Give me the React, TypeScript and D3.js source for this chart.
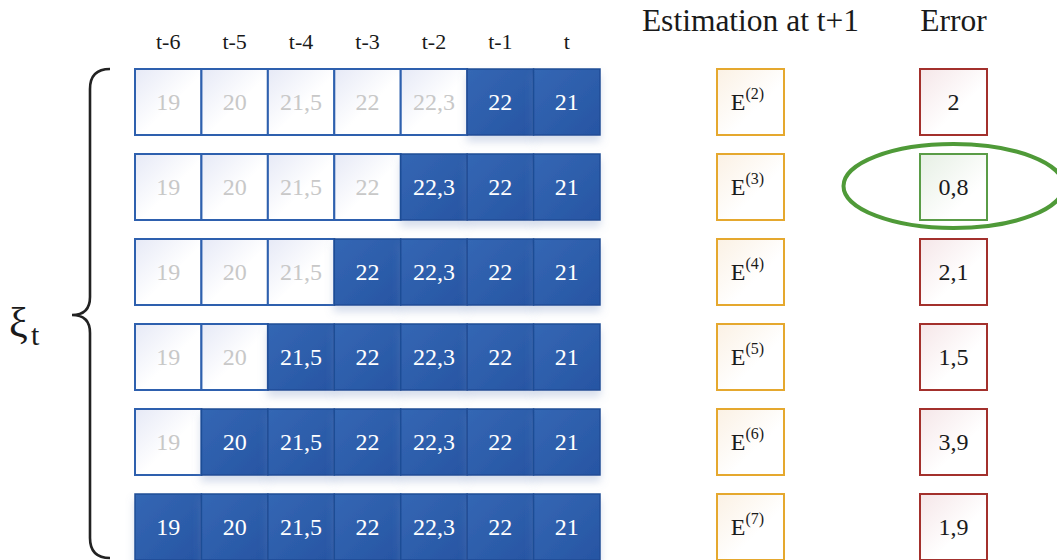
import React from "react";
import * as d3 from "d3";

const columns = ["t-6", "t-5", "t-4", "t-3", "t-2", "t-1", "t"];
const values = [19, 20, 21.5, 22, 22.3, 22, 21];
const windowSizes = [2, 3, 4, 5, 6, 7];
const errors = [2, 0.8, 2.1, 1.5, 3.9, 1.9];
const headerEstimation = "Estimation at t+1";
const headerError = "Error";

const W = 1057;
const H = 560;
const FONT = "'Liberation Serif', 'Times New Roman', serif";

const fmt = (v: number) => String(v).replace(".", ",");

export default function App() {
  const x = d3.scaleBand<string>().domain(columns).range([135, 600]).padding(0);
  const cw = x.bandwidth();
  const cellH = 66;
  const y = d3.scaleLinear().domain([0, 1]).range([69, 154]);
  const estX = 717;
  const errX = 920;
  const boxW = 67;
  const best = errors.indexOf(d3.min(errors) as number);

  return (
    <svg width={W} height={H} style={{ position: "absolute", left: 0, top: 0 }} fontFamily={FONT}>
      <defs>
        <linearGradient id="lightG" x1="0" y1="0" x2="1" y2="1">
          <stop offset="0" stopColor="#e6e9f6" />
          <stop offset="0.55" stopColor="#ffffff" />
          <stop offset="1" stopColor="#ffffff" />
        </linearGradient>
        <linearGradient id="darkG" x1="0" y1="0" x2="1" y2="1">
          <stop offset="0" stopColor="#3467b4" />
          <stop offset="1" stopColor="#2755a3" />
        </linearGradient>
        <linearGradient id="estG" x1="0" y1="0" x2="1" y2="1">
          <stop offset="0" stopColor="#fbf1e4" />
          <stop offset="0.6" stopColor="#ffffff" />
        </linearGradient>
        <linearGradient id="errG" x1="0" y1="0" x2="1" y2="1">
          <stop offset="0" stopColor="#f5e6e8" />
          <stop offset="0.6" stopColor="#ffffff" />
        </linearGradient>
        <linearGradient id="okG" x1="0" y1="0" x2="1" y2="1">
          <stop offset="0" stopColor="#e6efe4" />
          <stop offset="0.7" stopColor="#ffffff" />
        </linearGradient>
        <filter id="shadow" x="-20%" y="-20%" width="140%" height="160%">
          <feDropShadow dx="0" dy="6" stdDeviation="4" floodColor="#7890c0" floodOpacity="0.3" />
        </filter>
      </defs>

      {/* column headers */}
      {columns.map((c) => (
        <text key={c} x={(x(c) as number) + cw / 2} y={49} textAnchor="middle" fontSize={22} fill="#1a1a1a">
          {c}
        </text>
      ))}
      <text x={estX + boxW / 2} y={31} textAnchor="middle" fontSize={31.5} fill="#1a1a1a">
        {headerEstimation}
      </text>
      <text x={errX + boxW / 2} y={31} textAnchor="middle" fontSize={31.5} fill="#1a1a1a">
        {headerError}
      </text>

      {/* brace */}
      <path
        d="M110,69 Q90,69 90,89 L90,297 Q90,315 72,315 Q90,315 90,333 L90,538 Q90,558 110,558"
        fill="none"
        stroke="#222"
        strokeWidth={2.6}
      />
      <text x={9} y={337} fontSize={42} fill="#1a1a1a">ξ</text>
      <text x={31} y={345} fontSize={30} fill="#1a1a1a">t</text>

      {windowSizes.map((k, r) => {
        const top = y(r);
        const firstDark = columns.length - k;
        return (
          <g key={k}>
            {columns.map((c, i) =>
              i < firstDark ? (
                <g key={c}>
                  <rect x={x(c)} y={top} width={cw} height={cellH} fill="url(#lightG)" stroke="#2e60ae" strokeWidth={2} />
                  <text x={(x(c) as number) + cw / 2} y={top + 41} textAnchor="middle" fontSize={24} fill="#c8c8c8">
                    {fmt(values[i])}
                  </text>
                </g>
              ) : null
            )}
            {columns.map((c, i) =>
              i >= firstDark ? (
                <g key={c}>
                  <rect
                    x={x(c)}
                    y={top}
                    width={cw}
                    height={cellH}
                    fill="url(#darkG)"
                    stroke="#1f4d96"
                    strokeWidth={1.5}
                    filter="url(#shadow)"
                  />
                  <text x={(x(c) as number) + cw / 2} y={top + 41} textAnchor="middle" fontSize={24} fill="#ffffff">
                    {fmt(values[i])}
                  </text>
                </g>
              ) : null
            )}
            <rect x={estX} y={top} width={boxW} height={cellH} fill="url(#estG)" stroke="#e5a82e" strokeWidth={2} />
            <text x={estX + boxW / 2 - 3} y={top + 41} textAnchor="middle" fontSize={24} fill="#1a1a1a">
              E
              <tspan fontSize={16} dy={-11}>({k})</tspan>
            </text>
            <rect
              x={errX}
              y={top}
              width={boxW}
              height={cellH}
              fill={r === best ? "url(#okG)" : "url(#errG)"}
              stroke={r === best ? "#5a9c47" : "#a3302c"}
              strokeWidth={2}
            />
            <text x={errX + boxW / 2} y={top + 41} textAnchor="middle" fontSize={24} fill="#1a1a1a">
              {fmt(errors[r])}
            </text>
          </g>
        );
      })}

      <ellipse
        cx={errX + boxW / 2}
        cy={y(best) + cellH / 2 - 1}
        rx={110}
        ry={42}
        fill="none"
        stroke="#4f9a38"
        strokeWidth={4}
      />
    </svg>
  );
}
